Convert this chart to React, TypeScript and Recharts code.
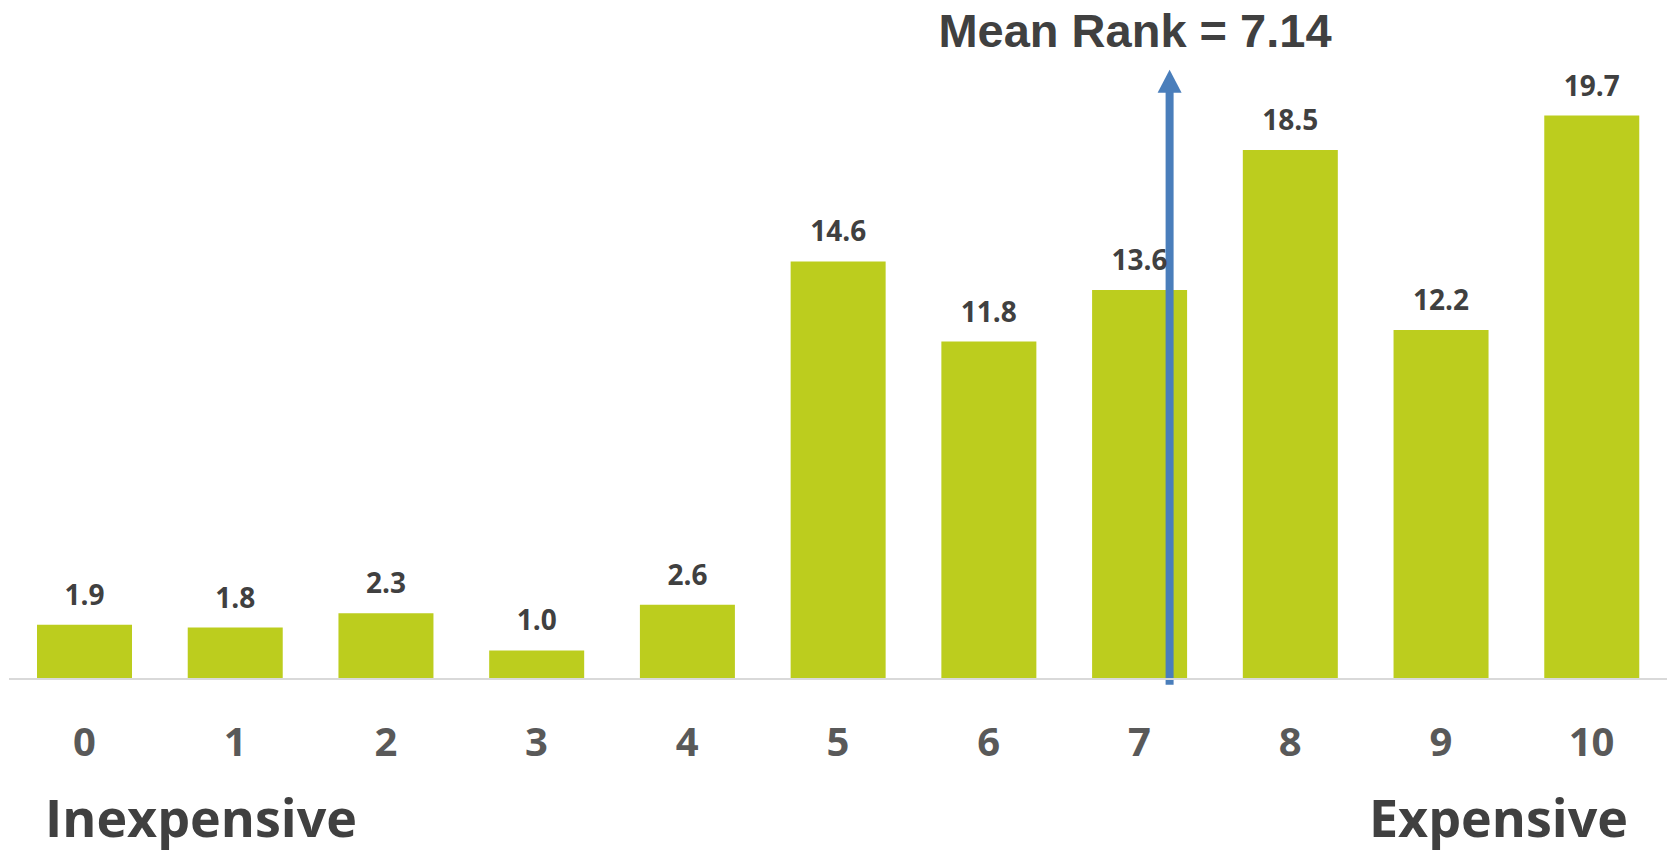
import { BarChart, Bar, XAxis, YAxis, LabelList, ReferenceLine } from 'recharts';

const ranks = [0, 1, 2, 3, 4, 5, 6, 7, 8, 9, 10];
const shares = [1.9, 1.8, 2.3, 1.0, 2.6, 14.6, 11.8, 13.6, 18.5, 12.2, 19.7];
const meanRank = 7.14;
// where the arrow sits on the rank axis, as drawn in the picture
const arrowPos = 7.2;
const arrowSpan = [-0.2, 21.3];

const data = ranks.map((rank, i) => ({ rank, share: shares[i] }));

const W = 1667;
const H = 852;

const ArrowShape = (props: any) => {
	const { x1, y1, x2, y2 } = props;
	const top = Math.min(y1, y2);
	const bottom = Math.max(y1, y2);
	const x = x1 ?? x2;
	return (
		<g>
			<line x1={x} x2={x} y1={bottom} y2={top + 22} stroke="#4a7ebb" strokeWidth={8} />
			<polygon points={`${x - 12},${top + 23} ${x + 12},${top + 23} ${x},${top}`} fill="#4a7ebb" />
		</g>
	);
};

const RankTick = (props: any) => {
	const { x, y, payload } = props;
	return (
		<text
			x={x}
			y={y + 77}
			textAnchor="middle"
			fill="#595959"
			fontFamily="'Open Sans', sans-serif"
			fontWeight={700}
			fontSize={40}
		>
			{payload.value}
		</text>
	);
};

export default function App() {
	return (
		<div style={{ position: 'absolute', left: 0, top: 0, width: W, height: H, background: '#fff' }}>
			<BarChart
				width={W}
				height={H}
				data={data}
				margin={{ top: 107, right: 0, bottom: 0, left: 9 }}
			>
				<XAxis
					dataKey="rank"
					type="number"
					domain={[-0.5, 10.5]}
					allowDataOverflow
					ticks={ranks}
					interval={0}
					height={173}
					tickLine={false}
					tickSize={0}
					tickMargin={0}
					axisLine={{ stroke: '#d9d9d9', strokeWidth: 2 }}
					tick={<RankTick />}
				/>
				<YAxis domain={[0, 20]} hide />
				<Bar dataKey="share" fill="#bccd1e" barSize={95} isAnimationActive={false}>
					<LabelList
						dataKey="share"
						position="top"
						offset={20}
						formatter={(v: any) => Number(v).toFixed(1)}
						fill="#404040"
						fontFamily="'Open Sans', sans-serif"
						fontWeight={700}
						fontSize={28}
					/>
				</Bar>
				<ReferenceLine
					segment={[
						{ x: arrowPos, y: arrowSpan[0] },
						{ x: arrowPos, y: arrowSpan[1] },
					]}
					ifOverflow="visible"
					shape={<ArrowShape />}
				/>
			</BarChart>
			<svg width={W} height={H} style={{ position: 'absolute', left: 0, top: 0, pointerEvents: 'none' }}>
				<text
					x={1135}
					y={47}
					textAnchor="middle"
					fill="#404040"
					fontFamily="'Liberation Sans', Arial, sans-serif"
					fontWeight={700}
					fontSize={47}
				>
					{`Mean Rank = ${meanRank}`}
				</text>
				<text x={45} y={837} fill="#404040" fontFamily="'Open Sans', sans-serif" fontWeight={700} fontSize={52}>
					Inexpensive
				</text>
				<text x={1628} y={837} textAnchor="end" fill="#404040" fontFamily="'Open Sans', sans-serif" fontWeight={700} fontSize={52}>
					Expensive
				</text>
			</svg>
		</div>
	);
}
